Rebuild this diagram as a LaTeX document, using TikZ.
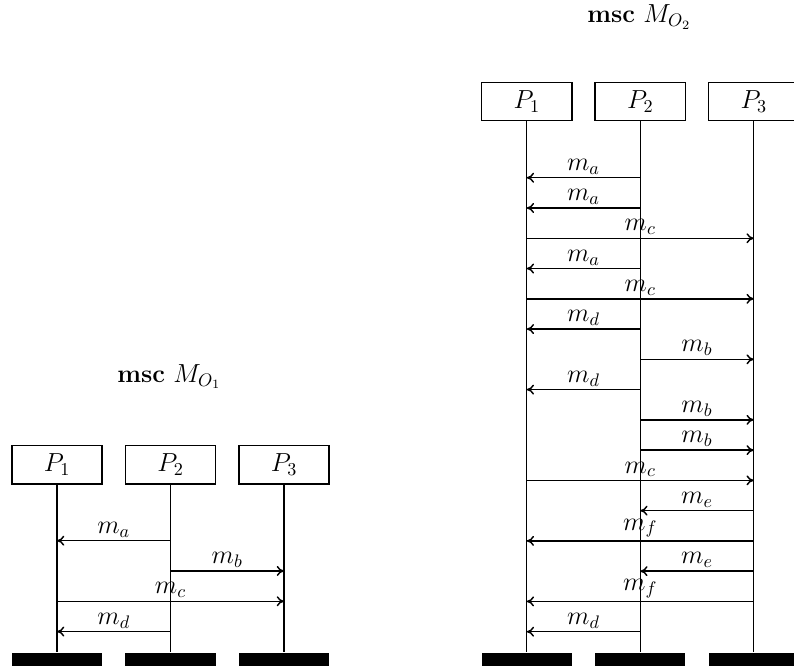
\documentclass[tikz,border=0pt]{standalone}
\usepackage{amsmath}
\usepackage{amssymb}
\usepackage{tikz}
\usetikzlibrary{calc,arrows.meta}

\tikzset{
 inst/.style={draw, line width=0.8pt, minimum width=1.75cm, minimum height=0.74cm, inner sep=0pt, font=\fontsize{14}{17}\selectfont},
 foot/.style={fill=black, minimum width=1.75cm, minimum height=0.25cm, inner sep=0pt},
 life/.style={line width=0.8pt},
 msg/.style={line width=0.8pt, -{To[length=4pt,width=5.5pt]}},
 lbl/.style={above, midway, font=\fontsize{14}{17}\selectfont, inner sep=1.5pt}
}

\begin{document}
\begin{tikzpicture}
\useasboundingbox (0,0) rectangle (15.39,12.98);

% chart O1
\node[font=\fontsize{14}{17}\selectfont] (t1) at (3.28,5.68) {\textbf{msc} $M_{O_1}$};
\foreach \x/\n in {1.105/1,3.305/2,5.505/3}{
 \node[inst] (a\n) at (\x,3.973) {$P_\n$};
 \node[foot] (fa\n) at (\x,0.204) {};
 \draw[life] (a\n.south) -- (fa\n.north);
 }
\foreach \k/\s/\t/\m in {1/2/1/a,2/2/3/b,3/1/3/c,4/2/1/d}{
 \pgfmathsetmacro\y{3.087-0.587*\k}
 \draw[msg] (a\s |- 0,\y) -- node[lbl] {$m_\m$} (a\t |- 0,\y);
 }

% chart O2
\node[font=\fontsize{14}{17}\selectfont] (t2) at (12.39,12.65) {\textbf{msc} $M_{O_2}$};
\foreach \x/\n in {10.21/1,12.41/2,14.61/3}{
 \node[inst] (b\n) at (\x,11.01) {$P_\n$};
 \node[foot] (fb\n) at (\x,0.204) {};
 \draw[life] (b\n.south) -- (fb\n.north);
 }
\foreach \k/\s/\t/\m in {1/2/1/a,2/2/1/a,3/1/3/c,4/2/1/a,5/1/3/c,6/2/1/d,7/2/3/b,8/2/1/d,
 9/2/3/b,10/2/3/b,11/1/3/c,12/3/2/e,13/3/1/f,14/3/2/e,15/3/1/f,16/2/1/d}{
 \pgfmathsetmacro\y{10.1216-0.5866*\k}
 \draw[msg] (b\s |- 0,\y) -- node[lbl] {$m_\m$} (b\t |- 0,\y);
 }
\end{tikzpicture}
\end{document}
